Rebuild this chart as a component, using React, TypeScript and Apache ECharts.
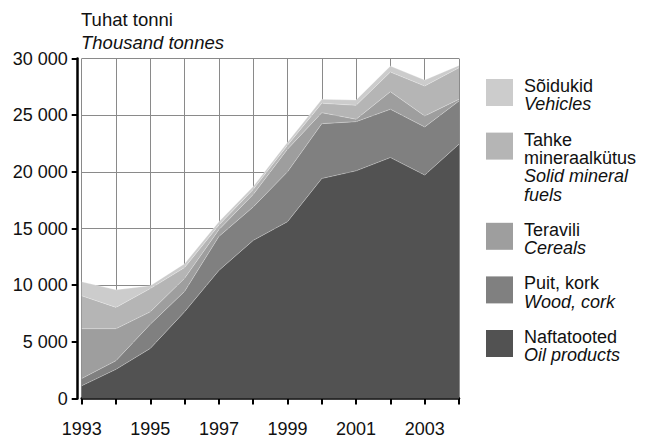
import React, { useEffect, useRef } from "react";
import * as echarts from "echarts";

const years = ["1993", "1994", "1995", "1996", "1997", "1998", "1999", "2000", "2001", "2002", "2003", "2004"];
const oilProducts = [1120, 2570, 4420, 7650, 11300, 13950, 15600, 19410, 20090, 21260, 19710, 22440];
const woodCork = [640, 770, 2130, 1800, 3000, 2950, 4400, 4840, 4340, 4260, 4250, 3810];
const cereals = [4400, 2820, 1100, 1150, 600, 1100, 2000, 970, 210, 1550, 970, 150];
const solidFuels = [2900, 1880, 2050, 950, 400, 450, 350, 830, 1230, 1730, 2640, 2780];
const vehicles = [1240, 1550, 250, 350, 300, 250, 250, 350, 470, 530, 530, 210];
const yTickLabels = ["0", "5 000", "10 000", "15 000", "20 000", "25 000", "30 000"];

const seriesDefs = [
  { key: "oil", data: oilProducts, color: "#525252", et: ["Naftatooted"], en: ["Oil products"] },
  { key: "wood", data: woodCork, color: "#808080", et: ["Puit, kork"], en: ["Wood, cork"] },
  { key: "cereals", data: cereals, color: "#9e9e9e", et: ["Teravili"], en: ["Cereals"] },
  { key: "solid", data: solidFuels, color: "#b5b5b5", et: ["Tahke", "mineraalkütus"], en: ["Solid mineral", "fuels"] },
  { key: "vehicles", data: vehicles, color: "#cccccc", et: ["Sõidukid"], en: ["Vehicles"] },
];

const FONT = "'Liberation Sans', Arial, Helvetica, sans-serif";
const FS = 18;

export default function App() {
  const ref = useRef<HTMLDivElement>(null);
  useEffect(() => {
    if (!ref.current) return;
    const chart = echarts.init(ref.current, null, { renderer: "svg" });

    const graphics: any[] = [
      { type: "text", x: 81, y: 10, style: { text: "Tuhat tonni", font: `18.5px ${FONT}`, fill: "#111", verticalAlign: "top" } },
      { type: "text", x: 81, y: 33, style: { text: "Thousand tonnes", font: `italic 18.5px ${FONT}`, fill: "#111", verticalAlign: "top" } },
    ];
    const lineH = 18.3;
    let top = 79;
    const legendOrder = [...seriesDefs].reverse();
    legendOrder.forEach((s) => {
      graphics.push({ type: "rect", shape: { x: 486, y: top, width: 27, height: 27 }, style: { fill: s.color } });
      const lines = [...s.et.map((t) => ({ t, i: false })), ...s.en.map((t) => ({ t, i: true }))];
      lines.forEach((ln, j) => {
        graphics.push({
          type: "text",
          x: 524,
          y: top - 2 + j * lineH,
          style: {
            text: ln.t,
            font: `${ln.i ? "italic " : ""}${FS}px ${FONT}`,
            lineHeight: 18,
            fill: "#111",
            verticalAlign: "top",
          },
        });
      });
      top += lines.length * lineH + 17;
    });

    chart.setOption({
      animation: false,
      backgroundColor: "#fff",
      grid: { left: 81.7, right: 189, top: 58.5, bottom: 43.5, containLabel: false },
      xAxis: {
        type: "category",
        data: years,
        boundaryGap: false,
        offset: 6,
        axisLine: { show: true, lineStyle: { color: "#000", width: 2.5 } },
        axisTick: { show: true, interval: 0, length: 6, lineStyle: { color: "#000", width: 2 } },
        axisLabel: { interval: 1, margin: 15, color: "#111", fontSize: 18, fontFamily: FONT },
        splitLine: { show: true, interval: 0, lineStyle: { color: "#8a8a8a", width: 1 } },
      },
      yAxis: {
        type: "value",
        min: 0,
        max: 30000,
        interval: 5000,
        offset: 4,
        axisLine: { show: true, lineStyle: { color: "#000", width: 2.5 } },
        axisTick: { show: true, length: 6, lineStyle: { color: "#000", width: 2 } },
        axisLabel: {
          margin: 10,
          color: "#111",
          fontSize: 18,
          fontFamily: FONT,
          formatter: (v: number) => yTickLabels[Math.round(v / 5000)] ?? "",
        },
        splitLine: { show: true, lineStyle: { color: "#8a8a8a", width: 1 } },
      },
      series: seriesDefs.map((s) => ({
        name: s.en.join(" "),
        type: "line",
        stack: "total",
        data: s.data,
        symbol: "none",
        lineStyle: { width: 0.8, color: "rgba(255,255,255,0.35)" },
        areaStyle: { color: s.color, opacity: 1 },
        itemStyle: { color: s.color },
      })),
      graphic: graphics,
    });
    return () => chart.dispose();
  }, []);
  return <div ref={ref} style={{ position: "fixed", left: 0, top: 0, width: 648, height: 442 }} />;
}
